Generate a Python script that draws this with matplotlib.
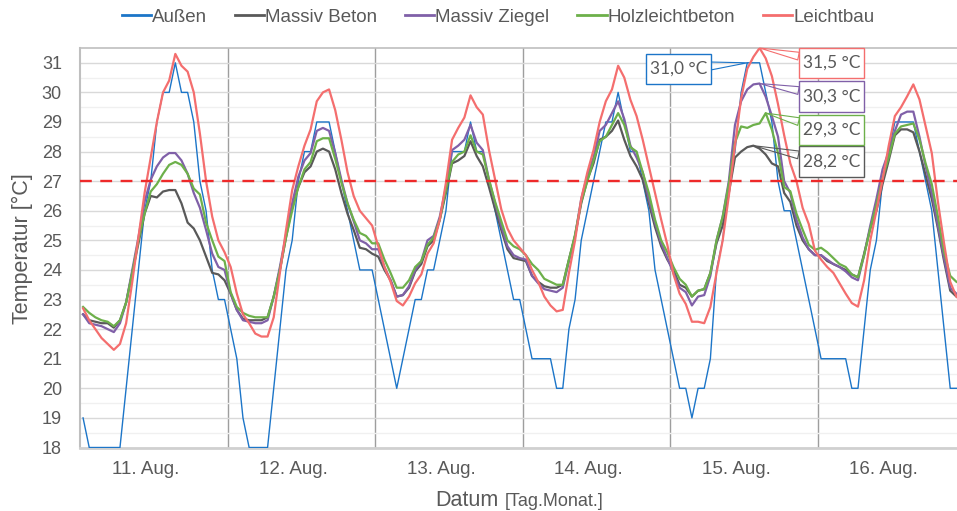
import numpy as np
import matplotlib
matplotlib.use("Agg")
import matplotlib.pyplot as plt
from matplotlib.lines import Line2D
from matplotlib.path import Path

plt.rcParams['font.family'] = ['Liberation Sans', 'DejaVu Sans']

# ---------------- data (hourly values, 11.-16. Aug.) ----------------
day_labels = ['11. Aug.', '12. Aug.', '13. Aug.', '14. Aug.', '15. Aug.', '16. Aug.']

aussen = [
    19, 18, 18, 18, 18, 18, 18, 20, 22, 24, 26, 27, 29, 30, 30, 31, 30, 30, 29, 27, 26, 24, 23, 23,
    22, 21, 19, 18, 18, 18, 18, 20, 22, 24, 25, 27, 28, 28, 29, 29, 29, 28, 27, 26, 25, 24, 24, 24,
    23, 22, 21, 20, 21, 22, 23, 23, 24, 24, 25, 26, 28, 28, 28, 29, 28, 28, 27, 26, 25, 24, 23, 23,
    22, 21, 21, 21, 21, 20, 20, 22, 23, 25, 26, 27, 28, 29, 29, 30, 29, 28, 28, 27, 26, 24, 23, 22,
    21, 20, 20, 19, 20, 20, 21, 24, 25, 27, 28, 30, 31, 31, 31, 30, 29, 27, 26, 26, 25, 24, 23, 22,
    21, 21, 21, 21, 21, 20, 20, 22, 24, 25, 27, 28, 29, 29, 29, 29, 28, 27, 26, 24, 22, 20, 20, 20,
]

massiv_beton = [
    22.5, 22.3, 22.25, 22.2, 22.2, 22.05, 22.3, 22.9, 23.9, 24.9, 25.9, 26.5, 26.45, 26.65, 26.7, 26.7, 26.25, 25.6, 25.4, 25.0, 24.45, 23.9, 23.85, 23.65,
    23.2, 22.65, 22.35, 22.3, 22.3, 22.3, 22.4, 23.1, 24.0, 25.1, 26.15, 26.8, 27.3, 27.5, 28.0, 28.1, 28.0, 27.4, 26.6, 25.9, 25.35, 24.75, 24.7, 24.55,
    24.45, 24.0, 23.65, 23.1, 23.15, 23.4, 23.95, 24.2, 24.8, 25.0, 25.7, 26.6, 27.6, 27.7, 27.85, 28.35, 27.85, 27.5, 26.8, 26.05, 25.35, 24.7, 24.4, 24.35,
    24.3, 23.8, 23.6, 23.45, 23.4, 23.4, 23.5, 24.35, 25.15, 26.25, 27.05, 27.6, 28.4, 28.5, 28.7, 29.05, 28.4, 27.85, 27.5, 27.05, 26.25, 25.45, 24.8, 24.35,
    24.0, 23.5, 23.4, 23.1, 23.3, 23.35, 23.9, 24.9, 25.5, 26.6, 27.8, 28.0, 28.15, 28.2, 28.1, 27.9, 27.6, 27.5, 26.6, 26.3, 25.5, 25.0, 24.7, 24.5,
    24.5, 24.3, 24.2, 24.1, 24.0, 23.85, 23.75, 24.55, 25.4, 26.0, 26.9, 27.7, 28.55, 28.75, 28.75, 28.65, 28.0, 27.2, 26.4, 25.4, 24.3, 23.3, 23.1, 23.0,
]

massiv_ziegel = [
    22.5, 22.2, 22.15, 22.1, 22.0, 21.9, 22.2, 22.9, 24.0, 25.1, 26.3, 27.05, 27.5, 27.8, 27.95, 27.95, 27.7, 27.25, 26.6, 26.1, 25.35, 24.55, 24.1, 24.0,
    23.2, 22.65, 22.3, 22.25, 22.2, 22.2, 22.3, 23.1, 24.1, 25.2, 26.25, 27.15, 27.7, 27.95, 28.7, 28.8, 28.7, 27.95, 27.05, 26.25, 25.65, 25.0, 24.9, 24.7,
    24.7, 24.1, 23.65, 23.1, 23.15, 23.45, 24.0, 24.3, 25.0, 25.15, 25.8, 26.8, 28.05, 28.2, 28.4, 28.9, 28.3, 28.05, 27.05, 26.25, 25.5, 24.8, 24.5, 24.4,
    24.35, 23.8, 23.55, 23.35, 23.3, 23.25, 23.4, 24.3, 25.15, 26.4, 27.2, 27.8, 28.7, 28.9, 29.3, 29.7, 29.1, 28.2, 27.8, 27.3, 26.4, 25.6, 24.9, 24.4,
    23.9, 23.4, 23.25, 22.8, 23.1, 23.15, 23.8, 25.0, 25.8, 27.0, 28.9, 29.7, 30.1, 30.27, 30.3, 29.85, 29.2, 28.5, 27.0, 26.6, 25.7, 25.1, 24.7, 24.5,
    24.5, 24.35, 24.2, 24.1, 23.95, 23.75, 23.65, 24.5, 25.5, 26.4, 27.4, 28.0, 28.7, 29.25, 29.35, 29.35, 28.5, 27.5, 26.6, 25.5, 24.4, 23.4, 23.2, 23.1,
]

holzleichtbeton = [
    22.75, 22.55, 22.4, 22.3, 22.25, 22.1, 22.3, 22.9, 23.9, 25.0, 25.9, 26.65, 26.9, 27.25, 27.55, 27.65, 27.55, 27.25, 26.75, 26.55, 25.6, 25.0, 24.45, 24.3,
    23.25, 22.75, 22.55, 22.45, 22.4, 22.4, 22.4, 23.1, 24.0, 25.1, 26.0, 26.8, 27.4, 27.65, 28.35, 28.45, 28.45, 27.75, 26.95, 26.25, 25.7, 25.25, 25.15, 24.9,
    24.9, 24.35, 23.9, 23.4, 23.4, 23.65, 24.1, 24.3, 24.85, 25.1, 25.7, 26.7, 27.65, 27.9, 28.0, 28.55, 28.0, 27.9, 27.05, 26.3, 25.65, 25.0, 24.8, 24.7,
    24.5, 24.2, 24.0, 23.7, 23.6, 23.5, 23.5, 24.35, 25.2, 26.3, 27.0, 27.7, 28.35, 28.5, 28.9, 29.3, 28.9, 28.15, 28.0, 27.3, 26.6, 25.7, 25.0, 24.6,
    24.1, 23.7, 23.5, 23.1, 23.3, 23.35, 23.9, 25.0, 25.8, 26.9, 28.3, 28.85, 28.8, 28.9, 28.95, 29.3, 28.74, 27.95, 26.8, 26.66, 25.9, 25.36, 24.85, 24.68,
    24.75, 24.6, 24.4, 24.2, 24.1, 23.85, 23.75, 24.5, 25.4, 26.2, 27.1, 27.8, 28.6, 28.85, 28.9, 28.95, 28.4, 27.6, 26.9, 25.8, 24.6, 23.8, 23.6, 23.5,
]

leichtbau = [
    22.7, 22.3, 22.0, 21.7, 21.5, 21.3, 21.5, 22.2, 23.6, 25.1, 26.6, 27.8, 29.0, 30.0, 30.4, 31.3, 30.9, 30.7, 30.0, 28.6, 27.0, 25.8, 25.0, 24.6,
    24.1, 23.2, 22.5, 22.2, 21.85, 21.75, 21.75, 22.4, 23.9, 25.35, 26.7, 27.5, 28.2, 28.75, 29.7, 30.0, 30.1, 29.4, 28.4, 27.3, 26.5, 26.0, 25.75, 25.5,
    24.8, 24.1, 23.6, 22.95, 22.8, 23.1, 23.55, 23.85, 24.55, 24.9, 25.7, 26.95, 28.4, 28.8, 29.15, 29.9, 29.5, 29.25, 28.05, 27.05, 26.05, 25.4, 25.0, 24.75,
    24.5, 24.0, 23.6, 23.1, 22.8, 22.6, 22.65, 23.9, 25.0, 26.4, 27.3, 28.05, 29.0, 29.7, 30.1, 30.9, 30.5, 29.75, 29.2, 28.4, 27.5, 26.6, 25.7, 24.85,
    23.85, 23.2, 22.85, 22.25, 22.25, 22.2, 22.75, 23.9, 25.0, 26.5, 28.2, 29.8, 30.8, 31.2, 31.5, 31.15, 30.55, 29.6, 28.55, 27.6, 27.0, 26.1, 25.55, 24.65,
    24.35, 24.1, 23.9, 23.55, 23.2, 22.88, 22.76, 23.65, 25.0, 26.0, 27.05, 28.2, 29.2, 29.5, 29.87, 30.27, 29.76, 28.86, 27.95, 26.3, 24.9, 23.6, 23.1, 22.9,
]

threshold = 27.0
label_day = 4          # day whose maxima get callouts (15. Aug.)
hours_per_day = 24

# ---------------- styling ----------------
TXT = '#595959'
series = [
    ('Außen', aussen, '#1C75C8', 1.0, (-69, -6)),
    ('Massiv Beton', massiv_beton, '#595959', 1.6, (78, -16)),
    ('Massiv Ziegel', massiv_ziegel, '#8060A8', 1.6, (72, -13)),
    ('Holzleichtbeton', holzleichtbeton, '#6DB04A', 1.6, (66, -17)),
    ('Leichtbau', leichtbau, '#F46E6E', 1.6, (72, -15)),
]


def callout_box(x0, y0, width, height, mutation_size):
    """Rectangular box with separate horizontal / vertical padding."""
    px = 0.22 * mutation_size
    py = 0.42 * mutation_size
    x0, y0 = x0 - px, y0 - py
    x1, y1 = x0 + width + 2 * px, y0 + height + 2 * py
    return Path([(x0, y0), (x1, y0), (x1, y1), (x0, y1), (x0, y0)], closed=True)


W, H = 957, 511
fig = plt.figure(figsize=(W / 100, H / 100), dpi=100)
n_days = len(day_labels)
# axes: left 80px, bottom 447.5px, top 48px, day width 147.6px (extends beyond right edge)
ax = fig.add_axes([80 / W, (H - 447.5) / H, n_days * 147.6 / W, 399.5 / H])

n = n_days * hours_per_day
x = np.arange(n) + 0.5

for name, vals, col, lw, off in series:
    ax.plot(x, vals, color=col, lw=lw, solid_joinstyle='round', zorder=3)

ax.axhline(threshold, color='#EE2A2A', lw=1.7, dashes=(5.0, 3.6), zorder=5)

ax.set_xlim(0, n)
ax.set_ylim(18, 31.5)
ax.set_yticks(np.arange(18, 32, 1))
ax.set_yticks(np.arange(18.5, 31.5, 1), minor=True)
ax.grid(axis='y', which='major', color='#D9D9D9', lw=1.0, zorder=0)
ax.grid(axis='y', which='minor', color='#F0F0F0', lw=1.0, zorder=0)
for d in range(1, n_days):
    ax.axvline(d * hours_per_day, color='#9E9E9E', lw=1.0, zorder=1)

ax.set_xticks([d * hours_per_day + 10.7 for d in range(n_days)])
ax.set_xticklabels(day_labels)
ax.tick_params(axis='both', which='both', length=0, colors=TXT)
ax.tick_params(axis='x', pad=10, labelsize=13.5)
ax.tick_params(axis='y', pad=13, labelsize=13)

ax.spines['right'].set_visible(False)
ax.spines['top'].set_color('#BFBFBF')
ax.spines['left'].set_color('#BFBFBF')
ax.spines['bottom'].set_color('#D0D0D0')
ax.spines['left'].set_linewidth(1.5)
ax.spines['top'].set_linewidth(1.2)
ax.spines['bottom'].set_linewidth(2.0)

# callouts for maxima of the label day
s0 = label_day * hours_per_day
for name, vals, col, lw, off in series:
    seg = np.asarray(vals[s0:s0 + hours_per_day])
    j = s0 + int(np.argmax(seg))
    txt = f"{vals[j]:.1f}".replace('.', ',') + ' °C'
    ax.annotate(txt, xy=(x[j], vals[j]), xytext=off, textcoords='offset pixels',
                ha='center', va='center', fontsize=12.5, color=TXT, family=['Lato', 'DejaVu Sans'],
                bbox=dict(boxstyle=callout_box, fc='white', ec=col, lw=1.0),
                arrowprops=dict(arrowstyle='wedge,tail_width=0.45,shrink_factor=0.5',
                                fc='none', ec=col, lw=0.8, shrinkA=0, shrinkB=0),
                zorder=6, annotation_clip=False)

# legend
handles = [Line2D([0], [0], color=c, lw=2.0) for _, _, c, _, _ in series]
labels = [s[0] for s in series]
leg = fig.legend(handles, labels, loc='center', bbox_to_anchor=(498 / W, 1 - 17 / H),
                 ncol=5, frameon=False, fontsize=13.5, handlelength=1.55, handletextpad=0.05,
                 columnspacing=1.5, labelcolor=TXT)

# axis titles
fig.text(22 / W, 1 - 249 / H, 'Temperatur [°C]', rotation=90, ha='center', va='center',
         fontsize=15.5, color=TXT)
fig.text(435 / W, 1 - 506 / H, 'Datum', ha='left', va='baseline', fontsize=15.5, color=TXT)
fig.text(505 / W, 1 - 506 / H, '[Tag.Monat.]', ha='left', va='baseline', fontsize=13, color=TXT)

fig.savefig('out.png', dpi=100)
